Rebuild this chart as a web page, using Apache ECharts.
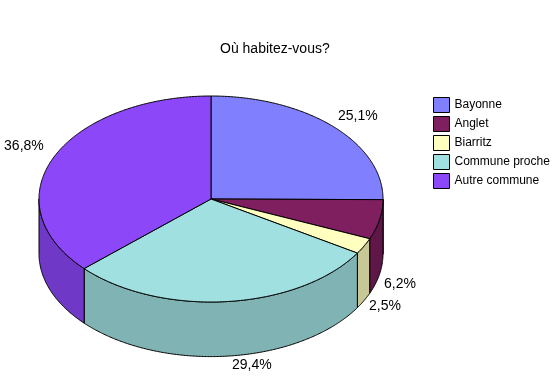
<!DOCTYPE html>
<html><head><meta charset="utf-8">
<script src="https://cdn.jsdelivr.net/npm/echarts@6/dist/echarts.min.js"></script>
<style>html,body{margin:0;padding:0;background:#fff}#c{width:559px;height:378px}</style>
</head><body><div id="c"></div>
<script>
const titleText = 'Où habitez-vous?';
const categories = ['Bayonne', 'Anglet', 'Biarritz', 'Commune proche', 'Autre commune'];
const values = [25.1, 6.2, 2.5, 29.4, 36.8];
const labels = ['25,1%', '6,2%', '2,5%', '29,4%', '36,8%'];

const topColors = ['#8080FF', '#7F1F5F', '#FFFFC0', '#A0E0E0', '#8C48F8'];
const sideColors = ['#6060C0', '#5F1747', '#C8C896', '#80B3B3', '#7038C6'];
const labelNudge = [[5, 0], [-7, 7], [-4, -1], [22, -6], [-4, -5]];
const DEPTH = 0.53;
const FONT = '"Liberation Sans", Arial, sans-serif';

const total = values.reduce((a, b) => a + b, 0);
let cum = 0;
const starts = values.map(v => { const s = cum; cum += v; return s; });

function renderItem(params, api) {
  const val = api.value(0), start = api.value(1), idx = api.value(2);
  const a0 = start / total * 2 * Math.PI, a1 = (start + val) / total * 2 * Math.PI;
  const pt = (t, dz) => api.coord([Math.sin(t), Math.cos(t) - dz]);
  const arc = (s, e, dz) => {
    const n = Math.max(2, Math.ceil((e - s) / (Math.PI / 360)));
    const out = [];
    for (let i = 0; i <= n; i++) out.push(pt(s + (e - s) * i / n, dz));
    return out;
  };
  const children = [];
  const s = Math.max(a0, Math.PI / 2), e = Math.min(a1, 3 * Math.PI / 2);
  if (e > s) {
    const pts = arc(s, e, 0).concat(arc(s, e, DEPTH).reverse());
    children.push({ type: 'polygon', shape: { points: pts },
      style: { fill: sideColors[idx], stroke: '#000', lineWidth: 1, lineJoin: 'round' }, z2: 1 });
  }
  const c = api.coord([0, 0]);
  children.push({ type: 'polygon', shape: { points: [c].concat(arc(a0, a1, 0)) },
    style: { fill: topColors[idx], stroke: '#000', lineWidth: 1, lineJoin: 'round' }, z2: 2 });
  const rx = api.coord([1, 0])[0] - c[0];
  const ry = c[1] - api.coord([0, 1])[1];
  const m = (a0 + a1) / 2;
  const lx = c[0] + rx * 1.163 * Math.sin(m) + labelNudge[idx][0];
  const ly = c[1] - ry * 1.146 * Math.cos(m) + (Math.cos(m) < 0 ? DEPTH * ry : 0) + labelNudge[idx][1];
  children.push({ type: 'text', x: lx, y: ly, z2: 3,
    style: { text: labels[idx], fill: '#000', font: '14px ' + FONT, align: 'center', verticalAlign: 'middle' } });
  return { type: 'group', children };
}

const chart = echarts.init(document.getElementById('c'), null, { renderer: 'canvas' });
chart.setOption({
  animation: false,
  backgroundColor: '#fff',
  title: { text: titleText, left: 220, top: 42, padding: 0,
    textStyle: { fontSize: 14, fontWeight: 'normal', color: '#000', fontFamily: FONT } },
  legend: {
    orient: 'vertical', left: 433, top: 97, padding: 0,
    itemWidth: 16, itemHeight: 15, itemGap: 3, icon: 'rect',
    itemStyle: { borderColor: '#000', borderWidth: 1 },
    textStyle: { fontSize: 12, color: '#000', fontFamily: FONT },
    data: categories
  },
  grid: { left: 39, top: 96, width: 344, height: 206 },
  xAxis: { type: 'value', min: -1, max: 1, show: false },
  yAxis: { type: 'value', min: -1, max: 1, show: false },
  series: categories.map((name, i) => ({
    type: 'custom', name, coordinateSystem: 'cartesian2d', renderItem,
    clip: false, silent: true,
    itemStyle: { color: topColors[i] },
    data: [[values[i], starts[i], i]]
  }))
});
</script></body></html>
